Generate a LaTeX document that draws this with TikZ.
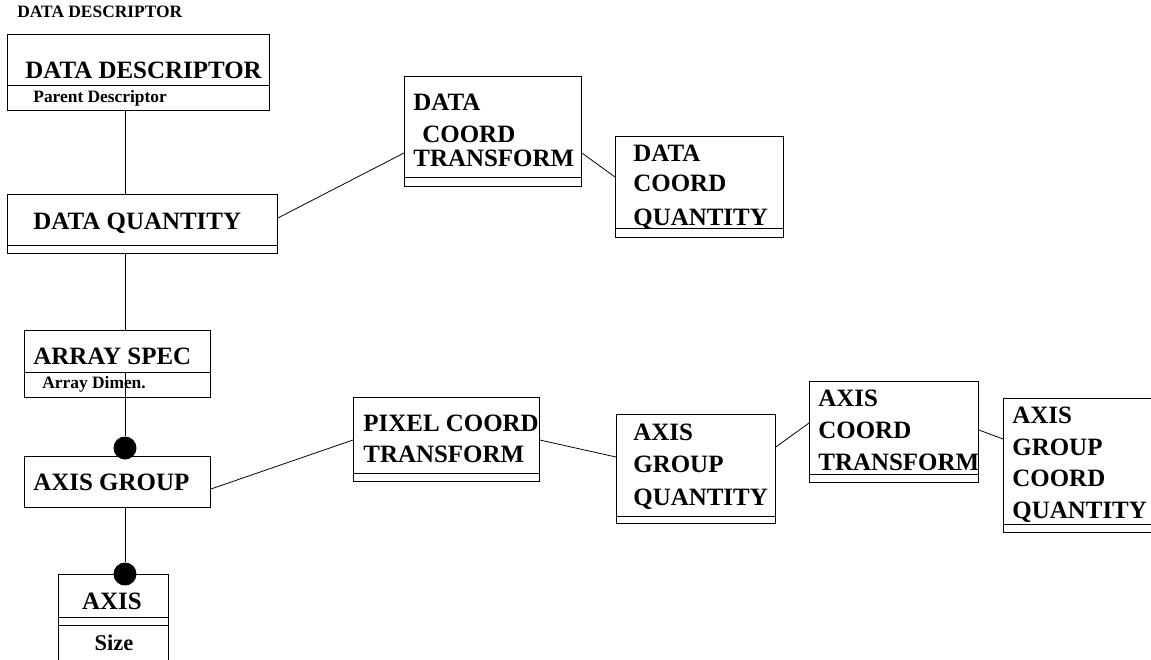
\documentclass[tikz,border=0pt]{standalone}
\usepackage{fontspec}
\setmainfont{Liberation Serif}
\usetikzlibrary{calc}
\tikzset{
    cls/.style 2 args={draw, line width=0.5pt, minimum width=#1*0.02cm, minimum height=#2*0.02cm, inner sep=0pt, anchor=north west}, % class box, size in px
    ball/.style={circle, fill, inner sep=0pt, minimum size=0.46cm}, % filled end dot
    lbl/.style={inner sep=0pt, anchor=base west, font=\fontsize{14.2}{16}\selectfont\bfseries},
    sub/.style={inner sep=0pt, anchor=base west, font=\fontsize{9.9}{11}\selectfont\bfseries}
}

\begin{document}
\begin{tikzpicture}[x=0.02cm, y=-0.02cm, line width=0.45pt]
    \useasboundingbox (0,0) rectangle (1151,659);
    \coordinate (spine) at (125,0);

    % class boxes
    \node[cls={262}{76}] (dd) at (7,34) {};
    \node[cls={270}{59}] (dq) at (7,194) {};
    \node[cls={186}{67}] (as) at (24,330) {};
    \node[cls={186}{51}] (ag) at (24,456) {};
    \node[cls={110}{91}] (ax) at (58,574) {};
    \node[cls={177}{110}] (dct) at (404,76) {};
    \node[cls={168}{101}] (dcq) at (615,136) {};
    \node[cls={186}{84}] (pct) at (353,397) {};
    \node[cls={159}{109}] (agq) at (616,414) {};
    \node[cls={169}{101}] (act) at (809,381) {};
    \node[cls={160}{134}] (agcq) at (1003,398) {};

    % compartment lines
    \foreach \b/\y in {dd/85, dq/245, as/372, ax/617, ax/625, dct/177, dcq/228, pct/473, agq/516, act/474, agcq/524}
        \draw[line width=0.5pt] (\b.west |- 0,\y) -- (\b.east |- 0,\y);

    % texts
    \node[sub] (title) at (17,17.3) {DATA DESCRIPTOR};
    \node[lbl] (dd-t) at (25,78.3) {DATA DESCRIPTOR};
    \node[sub] (dd-a) at (33,102) {Parent Descriptor};
    \node[lbl] (dq-t) at (33,229.3) {DATA QUANTITY};
    \node[lbl] (as-t) at (33,364) {ARRAY SPEC};
    \node[sub] (as-a) at (42,388) {Array Dimen.};
    \node[lbl] (ag-t) at (33,490.7) {AXIS GROUP};
    \node[lbl, anchor=base] (ax-t) at (112,609) {AXIS};
    \node[lbl, anchor=base, font=\fontsize{12.8}{15}\selectfont\bfseries] (ax-a) at (114,650.7) {Size};
    \node[lbl] (dct-1) at (413,110.7) {DATA};
    \node[lbl] (dct-2) at (422,142.7) {COORD};
    \node[lbl] (dct-3) at (413,166) {TRANSFORM};
    \node[lbl] (dcq-1) at (633,161.7) {DATA};
    \node[lbl] (dcq-2) at (633,191.7) {COORD};
    \node[lbl] (dcq-3) at (633,225) {QUANTITY};
    \foreach \t [count=\i from 0] in {PIXEL COORD,TRANSFORM}
        \node[lbl] (pct-\i) at (363,431.7+31*\i) {\t};
    \foreach \t [count=\i from 0] in {AXIS,GROUP,QUANTITY}
        \node[lbl] (agq-\i) at (633,440.7+32.2*\i) {\t};
    \foreach \t [count=\i from 0] in {AXIS,COORD,TRANSFORM}
        \node[lbl] (act-\i) at (818,406.7+31.7*\i) {\t};
    \foreach \t [count=\i from 0] in {AXIS,GROUP,COORD,QUANTITY}
        \node[lbl] (agcq-\i) at (1012,423.3+31.7*\i) {\t};

    % connectors
    \draw (dd.south -| spine) -- (dq.north -| spine);
    \draw (dq.south -| spine) -- (as.north -| spine);
    \node[ball] (agdot) at (125,448) {};
    \node[ball] (axdot) at (125,574) {};
    \draw (spine |- 0,372) -- (agdot);
    \draw (ag.south -| spine) -- (axdot);
    \draw ($(dq.north east)+(0,24)$) -- ($(dct.north west)+(0,77)$);
    \draw ($(dct.north east)+(0,77)$) -- ($(dcq.north west)+(0,41)$);
    \draw ($(ag.north east)+(0,33)$) -- ($(pct.north west)+(0,43)$);
    \draw ($(pct.north east)+(0,43)$) -- ($(agq.north west)+(0,43)$);
    \draw ($(agq.north east)+(0,33)$) -- ($(act.north west)+(0,42)$);
    \draw ($(act.north east)+(0,49)$) -- ($(agcq.north west)+(0,41)$);
\end{tikzpicture}
\end{document}
